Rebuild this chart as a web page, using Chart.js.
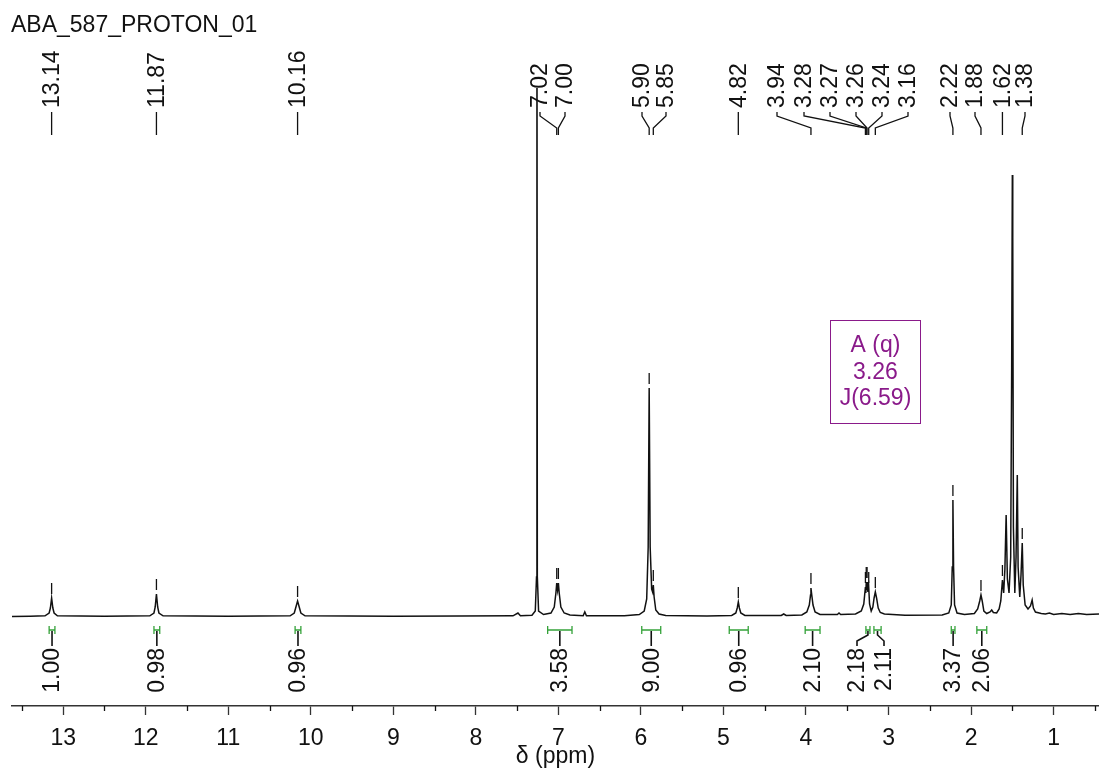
<!DOCTYPE html>
<html>
<head>
<meta charset="utf-8">
<title>ABA_587_PROTON_01</title>
<script src="https://cdn.jsdelivr.net/npm/chart.js@4.4.0/dist/chart.umd.min.js"></script>
<style>
  html, body { margin: 0; padding: 0; background: #fff; }
  #wrap { width: 1099px; height: 774px; position: relative; }
</style>
</head>
<body>
<div id="wrap"><canvas id="nmr"></canvas></div>
<script>
// 1H spectrum, chemical shift (ppm) vs. intensity
var sampleName = 'ABA_587_PROTON_01';

var specPpm = [
  13.62, 13.40, 13.22, 13.17, 13.155, 13.14, 13.125, 13.11, 13.07, 12.50,
  11.95, 11.90, 11.885, 11.87, 11.855, 11.84, 11.79, 11.00,
  10.25, 10.20, 10.18, 10.16, 10.14, 10.12, 10.07,
  9.00, 8.20, 7.55, 7.49, 7.46, 7.32, 7.28, 7.265, 7.26, 7.255, 7.24, 7.18,
  7.09, 7.05, 7.03, 7.02, 7.01, 7.00, 6.99, 6.97, 6.93, 6.86, 6.70, 6.68, 6.66,
  6.20, 6.02, 5.96, 5.93, 5.912, 5.90, 5.888, 5.87, 5.858, 5.85, 5.84, 5.82, 5.78, 5.70,
  5.20, 4.90, 4.85, 4.833, 4.82, 4.807, 4.79, 4.74,
  4.30, 4.27, 4.24,
  4.05, 3.99, 3.96, 3.945, 3.94, 3.93, 3.915, 3.89, 3.83,
  3.62, 3.60, 3.58,
  3.40, 3.33, 3.30, 3.28, 3.275, 3.27, 3.265, 3.26, 3.25, 3.24, 3.23, 3.21,
  3.19, 3.175, 3.16, 3.145, 3.125, 3.10, 3.05, 2.80,
  2.35, 2.27, 2.24, 2.228, 2.22, 2.212, 2.20, 2.17, 2.08,
  1.96, 1.92, 1.895, 1.88, 1.865, 1.845, 1.81, 1.77, 1.75, 1.73, 1.69,
  1.66, 1.64, 1.62, 1.605, 1.59, 1.575, 1.56, 1.54, 1.52, 1.508, 1.50, 1.495, 1.487,
  1.47, 1.455, 1.44, 1.43, 1.41, 1.395, 1.38, 1.368, 1.345, 1.31, 1.28, 1.26, 1.245,
  1.22, 1.15, 1.10, 1.05, 1.00, 0.90, 0.80, 0.70, 0.60, 0.45
];
var specInt = [
  0.6, 0.8, 1.2, 4, 9, 19, 9, 4, 1.2, 0.8,
  1.2, 4, 10, 23, 10, 4, 1.2, 0.8,
  1.2, 4, 10, 16, 10, 4, 1.2,
  0.8, 1, 1.2, 4, 1.3, 1.8, 6, 40, 700, 40, 6, 2.5,
  4, 10, 24, 34, 27, 34, 24, 10, 4, 2, 1.2, 5, 1.2,
  1.2, 2.5, 6, 18, 70, 229, 70, 28, 25, 32, 20, 7, 3, 1.5,
  1, 1.5, 4, 9, 15, 9, 4, 1.5,
  1.5, 3, 1.5,
  2, 5, 12, 22, 29, 22, 12, 5, 2.5,
  2.5, 4, 2.5,
  3, 6, 13, 30, 24, 35, 27, 35, 25, 30, 13, 6,
  10, 19, 25, 19, 9, 4.5, 3, 1.8,
  2, 4, 12, 50, 117, 50, 12, 4, 2.5,
  3.5, 8, 16, 22, 16, 6, 3.5, 5, 7, 4.5, 4,
  8, 16, 37, 24, 48, 102, 38, 24, 60, 250, 442, 380, 90,
  24, 60, 142, 50, 20, 42, 74, 32, 12, 8, 11, 17, 9,
  5, 3.5, 3, 4, 2.5, 3.5, 2.5, 3.5, 2.5, 3
];

// picked peaks
var pickPpm = [13.14, 11.87, 10.16, 7.02, 7.00, 5.90, 5.85, 4.82, 3.94,
  3.28, 3.27, 3.26, 3.24, 3.16, 2.22, 1.88, 1.62, 1.38];

// integrals
var intFrom = [13.17, 11.90, 10.19, 7.13, 5.99, 4.93, 4.01, 3.274, 3.177, 2.24, 1.93];
var intTo = [13.10, 11.83, 10.12, 6.835, 5.76, 4.70, 3.83, 3.225, 3.09, 2.195, 1.81];
var intValue = [1.00, 0.98, 0.96, 3.58, 9.00, 0.96, 2.10, 2.18, 2.11, 3.37, 2.06];

// multiplet report
var multiplet = ['A (q)', '3.26', 'J(6.59)'];

var axisTicks = { min: 0.45, max: 13.62, step: 0.5 };

// label placement (pixel columns for the rotated text)
var pickSlot = [51, 156, 297, 540, 565, 642, 666, 739, 777, 804, 830, 856, 882, 908, 950, 975, 1000, 1025];
var intSlot = [52, 157, 298, 559, 651, 738, 811, 857, 884, 953, 982];

var FONT = '23px "Liberation Sans", Arial, sans-serif';
var INK = '#111';
var GREEN = '#35a23a';
var PURPLE = '#8a1a8a';

function heightAt(p) {
  var best = 0, d = 1e9;
  for (var i = 0; i < specPpm.length; i++) {
    var dd = Math.abs(specPpm[i] - p);
    if (dd < d) { d = dd; best = specInt[i]; }
  }
  return best;
}

var annotate = {
  id: 'annotate',
  afterDraw: function (chart) {
    var ctx = chart.ctx, x = chart.scales.x, y = chart.scales.y;
    var base = y.getPixelForValue(0);
    var axisY = chart.chartArea.bottom;
    ctx.save();
    ctx.font = FONT;
    ctx.fillStyle = INK;
    ctx.strokeStyle = INK;
    ctx.lineWidth = 1.3;

    ctx.textAlign = 'left';
    ctx.textBaseline = 'alphabetic';
    ctx.fillText(sampleName, 11, 32);

    // minor ticks at the half ppm
    x.ticks.forEach(function (t) {
      if (Math.abs(t.value - Math.round(t.value)) > 1e-6) {
        var px = Math.round(x.getPixelForValue(t.value)) + 0.5;
        ctx.beginPath();
        ctx.moveTo(px, axisY);
        ctx.lineTo(px, axisY + 5);
        ctx.stroke();
      }
    });

    // peak labels, connectors and pick markers
    pickPpm.forEach(function (p, i) {
      var px = x.getPixelForValue(p);
      var lx = pickSlot[i];
      var straight = Math.abs(lx - px) < 2.5;
      ctx.beginPath();
      if (straight) {
        ctx.moveTo(px, 112);
        ctx.lineTo(px, 135);
      } else {
        ctx.moveTo(lx, 112);
        ctx.lineTo(lx, 116);
        ctx.lineTo(px, 128);
        ctx.lineTo(px, 135);
      }
      ctx.stroke();

      ctx.save();
      ctx.translate(straight ? px : lx, 108);
      ctx.rotate(-Math.PI / 2);
      ctx.textAlign = 'left';
      ctx.textBaseline = 'middle';
      ctx.fillText(p.toFixed(2), 0, 1);
      ctx.restore();

      var top = y.getPixelForValue(heightAt(p));
      if (top > chart.chartArea.top + 20) {
        ctx.beginPath();
        ctx.moveTo(px, top - 4);
        ctx.lineTo(px, top - 15);
        ctx.stroke();
      }
    });

    // integral brackets and values
    intValue.forEach(function (v, i) {
      var x1 = x.getPixelForValue(intFrom[i]);
      var x2 = x.getPixelForValue(intTo[i]);
      var cx = (x1 + x2) / 2;
      var lx = intSlot[i];
      var straight = Math.abs(lx - cx) < 3;
      var by = base + 13;
      ctx.strokeStyle = GREEN;
      ctx.beginPath();
      ctx.moveTo(x1, by); ctx.lineTo(x2, by);
      ctx.moveTo(x1, by - 4); ctx.lineTo(x1, by + 4);
      ctx.moveTo(x2, by - 4); ctx.lineTo(x2, by + 4);
      ctx.stroke();

      ctx.strokeStyle = INK;
      ctx.lineWidth = 1.6;
      ctx.beginPath();
      ctx.moveTo(cx, by + 1);
      if (straight) {
        ctx.lineTo(cx, base + 29);
      } else {
        ctx.lineTo(cx, by + 5);
        ctx.lineTo(lx, by + 11);
        ctx.lineTo(lx, base + 29);
      }
      ctx.stroke();
      ctx.lineWidth = 1.3;

      ctx.save();
      ctx.translate(straight ? cx : lx, base + 31);
      ctx.rotate(-Math.PI / 2);
      ctx.textAlign = 'right';
      ctx.textBaseline = 'middle';
      ctx.fillText(v.toFixed(2), 0, 1);
      ctx.restore();
    });

    // multiplet box
    ctx.strokeStyle = PURPLE;
    ctx.fillStyle = PURPLE;
    ctx.lineWidth = 1;
    ctx.strokeRect(830.5, 320.5, 90, 103);
    ctx.textAlign = 'center';
    ctx.textBaseline = 'middle';
    multiplet.forEach(function (s, i) {
      ctx.fillText(s, 875.5, 346 + i * 26.5);
    });
    ctx.restore();
  }
};

var points = specPpm.map(function (p, i) { return { x: p, y: specInt[i] }; });

new Chart(document.getElementById('nmr'), {
  type: 'line',
  data: {
    datasets: [{
      data: points,
      borderColor: INK,
      borderWidth: 1.5,
      pointRadius: 0,
      tension: 0,
      fill: false
    }]
  },
  options: {
    responsive: true,
    maintainAspectRatio: false,
    animation: false,
    devicePixelRatio: 1,
    layout: { autoPadding: false, padding: { top: 88, left: 12, right: 0, bottom: 0 } },
    plugins: { legend: { display: false }, tooltip: { enabled: false } },
    scales: {
      x: {
        type: 'linear',
        position: 'bottom',
        reverse: true,
        min: axisTicks.min,
        max: axisTicks.max,
        afterFit: function (s) {
          s.height = 68;
          s.paddingLeft = 0;
          s.paddingRight = 0;
        },
        border: { display: true, color: '#333', width: 1.5 },
        grid: {
          drawOnChartArea: false,
          drawTicks: true,
          tickLength: 9,
          tickWidth: 1.3,
          tickColor: function (c) {
            return c.tick && Number.isInteger(c.tick.value) ? '#333' : 'rgba(0,0,0,0)';
          }
        },
        ticks: {
          stepSize: axisTicks.step,
          includeBounds: false,
          autoSkip: false,
          maxRotation: 0,
          padding: 10,
          color: INK,
          font: { family: '"Liberation Sans", Arial, sans-serif', size: 23 },
          callback: function (v) { return Number.isInteger(v) ? String(v) : ''; }
        },
        title: {
          display: true,
          text: 'δ (ppm)',
          color: INK,
          font: { family: '"Liberation Sans", Arial, sans-serif', size: 23 },
          padding: { top: 0, bottom: 4 }
        }
      },
      y: {
        display: false,
        min: -89,
        max: 529
      }
    }
  },
  plugins: [annotate]
});
</script>
</body>
</html>
